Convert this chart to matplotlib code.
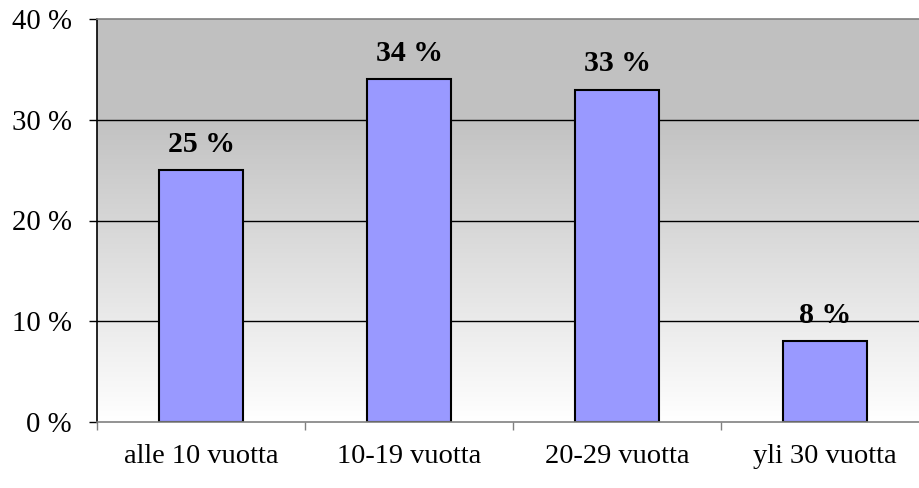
import numpy as np
import matplotlib
matplotlib.use("Agg")
import matplotlib.pyplot as plt

categories = ["alle 10 vuotta", "10-19 vuotta", "20-29 vuotta", "yli 30 vuotta"]
shares = [25, 34, 33, 8]
y_ticks = [0, 10, 20, 30, 40]

plt.rcParams['font.family'] = ['Liberation Serif', 'DejaVu Serif']

fig = plt.figure(figsize=(9.19, 4.88), dpi=100)
# plot area runs off the right edge, as in the original
ax = fig.add_axes([97 / 919, 1 - 422 / 488, 832 / 919, 403 / 488])

x = np.arange(len(categories))
ax.set_xlim(-0.5, len(categories) - 0.5)
ax.set_ylim(0, 40)

# flat grey in the top band, then fading to white at the bottom
grad = np.linspace(0, 1, 512).reshape(-1, 1)
cmap = matplotlib.colors.LinearSegmentedColormap.from_list(
    "bg", [(0, "#c0c0c0"), (0.25, "#c2c2c2"), (1, "#ffffff")])
ax.imshow(grad, cmap=cmap, aspect="auto", origin="upper",
          extent=(-0.5, len(categories) - 0.5, 0, 40), zorder=0)

for yv in y_ticks[1:-1]:
    ax.axhline(yv, color="black", lw=1.0, zorder=1)

bars = ax.bar(x, shares, width=0.4, color="#9999ff", edgecolor="black", lw=1.5, zorder=2)
for b, v in zip(bars, shares):
    ax.annotate(f"{v} %", (b.get_x() + b.get_width() / 2, v), xytext=(0, 13),
                textcoords="offset points", ha="center", va="baseline",
                fontsize=21.5, fontweight="bold", zorder=3)

ax.set_yticks(y_ticks)
ax.set_yticklabels([f"{v} %" for v in y_ticks], fontsize=20.7)
ax.tick_params(axis="y", length=6, width=1, color="black", pad=12)

ax.set_xticks(x)
ax.set_xticklabels(categories, fontsize=20.5)
ax.tick_params(axis="x", which="major", length=0, pad=16)
ax.set_xticks(np.arange(-0.5, len(categories)), minor=True)
ax.tick_params(axis="x", which="minor", length=6, width=1, color="#808080")

ax.spines["left"].set_color("black")
ax.spines["bottom"].set_color("#808080")
ax.spines["top"].set_color("#808080")
ax.spines["right"].set_color("#808080")
for s in ax.spines.values():
    s.set_linewidth(1.2)

fig.savefig("out.png", dpi=100)
